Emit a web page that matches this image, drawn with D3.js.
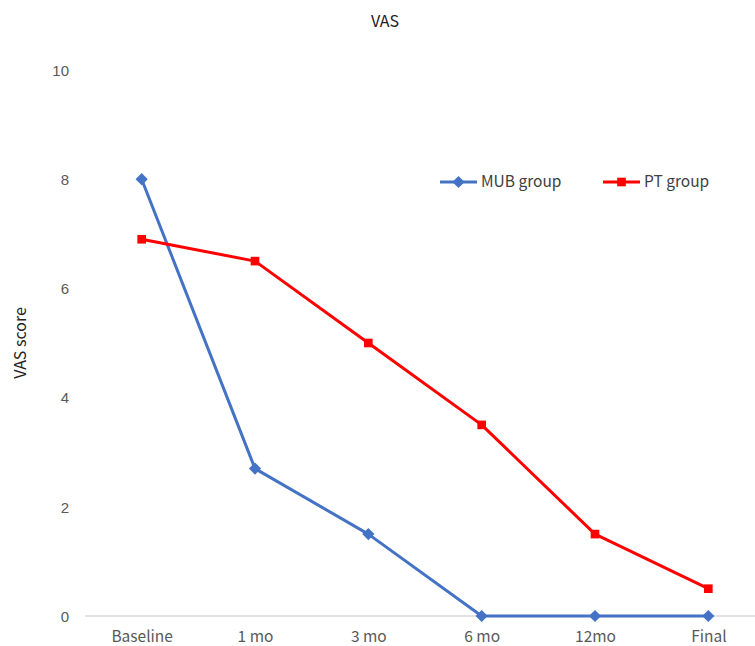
<!DOCTYPE html>
<html>
<head>
<meta charset="utf-8">
<script src="https://cdn.jsdelivr.net/npm/d3@7"></script>
<style>
  html, body { margin: 0; padding: 0; background: #fff; }
  svg { display: block; }
</style>
</head>
<body>
<svg id="chart" width="755" height="646"></svg>
<script>
// Time points and VAS scores per group
const categories = ["Baseline", "1 mo", "3 mo", "6 mo", "12mo", "Final"];
const mubValues = [8, 2.7, 1.5, 0, 0, 0];
const ptValues = [6.9, 6.5, 5.0, 3.5, 1.5, 0.5];
const yTicks = [0, 2, 4, 6, 8, 10];

const series = [
  { name: "MUB group", values: mubValues, color: "#4472C4", marker: "diamond" },
  { name: "PT group", values: ptValues, color: "#FF0000", marker: "square" }
];

const svg = d3.select("#chart");
// plot area runs past the right edge of the view, as the axis line does
const plot = { left: 85, right: 765, top: 70, bottom: 616 };

const x = d3.scalePoint().domain(categories).range([plot.left, plot.right]).padding(0.5);
const y = d3.scaleLinear().domain([0, 10]).range([plot.bottom, plot.top]);

const labelFont = "'Noto Sans CJK JP', 'Noto Sans', sans-serif";
const tickFont = "'Liberation Sans', Arial, sans-serif";

// Title
svg.append("text")
  .attr("x", 385).attr("y", 27)
  .attr("text-anchor", "middle")
  .attr("font-family", labelFont)
  .attr("font-size", 16)
  .attr("fill", "#222")
  .text("VAS");

// Y axis (labels only)
const yAxis = d3.axisLeft(y).tickValues(yTicks).tickSize(0).tickPadding(0);
const yg = svg.append("g").attr("transform", `translate(${plot.left - 16},0)`).call(yAxis);
yg.select(".domain").remove();
yg.selectAll("text")
  .attr("font-family", tickFont)
  .attr("font-size", 15)
  .attr("fill", "#595959")
  .attr("dy", "0.35em");

// X axis
const xAxis = d3.axisBottom(x).tickSize(0).tickPadding(0);
const xg = svg.append("g").attr("transform", `translate(0,${plot.bottom})`).call(xAxis);
xg.select(".domain").remove();
xg.selectAll("text")
  .attr("font-family", labelFont)
  .attr("font-size", 15.5)
  .attr("fill", "#595959")
  .attr("y", 26)
  .attr("dy", 0);
svg.append("line")
  .attr("x1", plot.left).attr("x2", plot.right)
  .attr("y1", y(0)).attr("y2", y(0))
  .attr("stroke", "#d9d9d9").attr("stroke-width", 1.5);

// Y axis title
svg.append("text")
  .attr("transform", `translate(26,${(plot.top + plot.bottom) / 2}) rotate(-90)`)
  .attr("text-anchor", "middle")
  .attr("font-family", labelFont)
  .attr("font-size", 16)
  .attr("fill", "#222")
  .text("VAS score");

const line = d3.line().x((d, i) => x(categories[i])).y(d => y(d));
const symbolFor = m => m === "diamond"
  ? d3.symbol().type(d3.symbolDiamond2).size(95)
  : d3.symbol().type(d3.symbolSquare2).size(95);

// Series lines and markers
series.forEach(s => {
  const g = svg.append("g");
  g.append("path")
    .datum(s.values)
    .attr("d", line)
    .attr("fill", "none")
    .attr("stroke", s.color)
    .attr("stroke-width", 3)
    .attr("stroke-linejoin", "round");
  g.selectAll("path.mk")
    .data(s.values)
    .join("path")
    .attr("class", "mk")
    .attr("d", symbolFor(s.marker))
    .attr("transform", (d, i) => `translate(${x(categories[i])},${y(d)})`)
    .attr("fill", s.color);
});

// Legend
const legendPos = [440, 603];
series.forEach((s, i) => {
  const lg = svg.append("g").attr("transform", `translate(${legendPos[i]},182)`);
  lg.append("line").attr("x1", 0).attr("x2", 37).attr("y1", 0).attr("y2", 0)
    .attr("stroke", s.color).attr("stroke-width", 3);
  lg.append("path").attr("d", symbolFor(s.marker)).attr("transform", "translate(18.5,0)").attr("fill", s.color);
  lg.append("text").attr("x", 41).attr("y", 0).attr("dy", "0.35em")
    .attr("font-family", labelFont).attr("font-size", 15.5).attr("fill", "#404040")
    .text(s.name);
});
</script>
</body>
</html>
